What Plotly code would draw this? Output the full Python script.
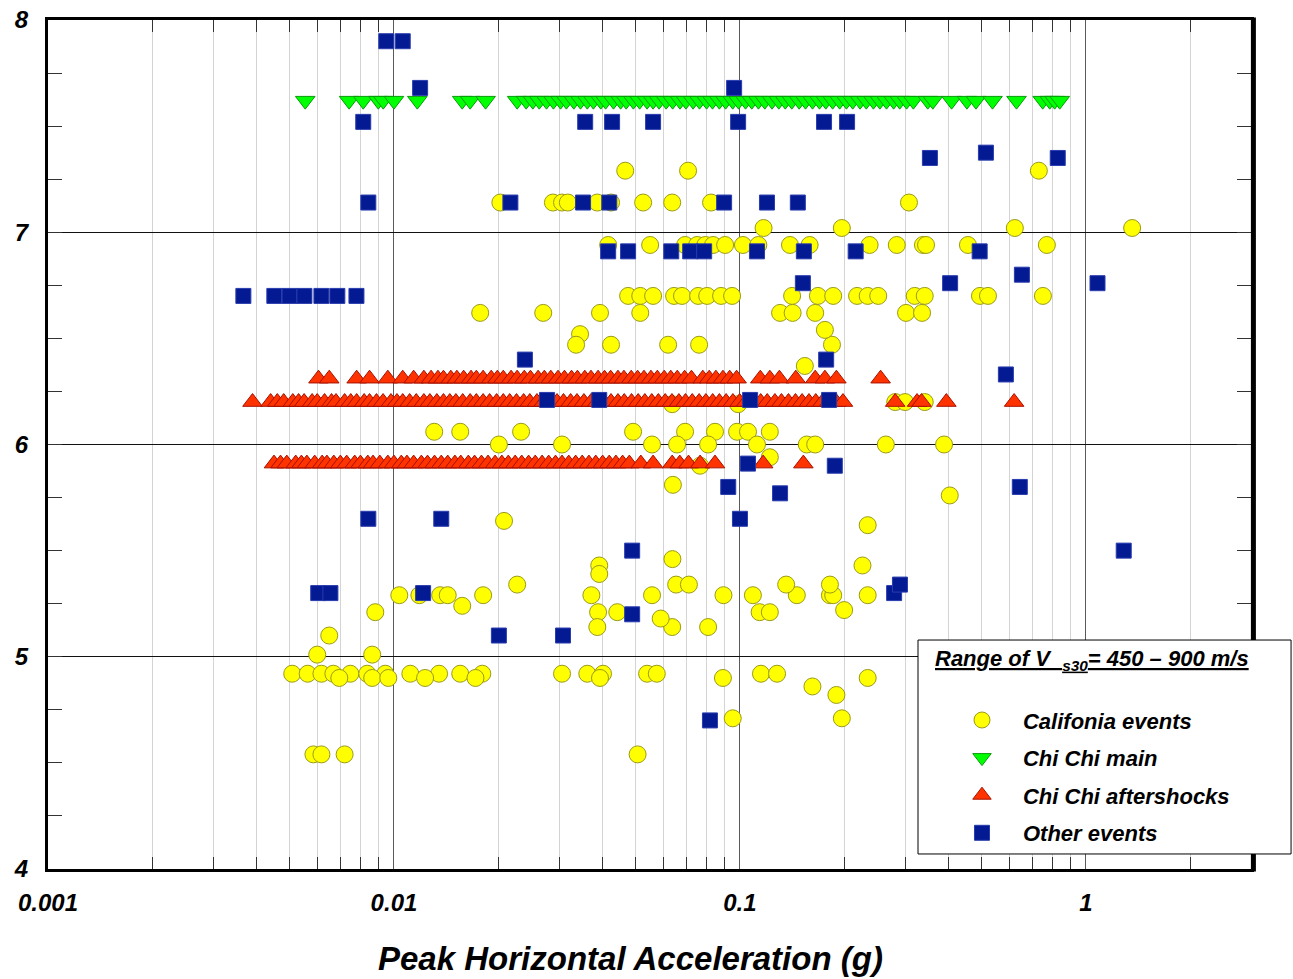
import plotly.graph_objects as go

# ---------------- data (PGA in g, magnitude) ----------------
cal_pga = [
    0.0466, 0.0708, 0.731,
    0.0203, 0.0288, 0.0306, 0.0318, 0.0387, 0.0424, 0.0525, 0.0637, 0.0825, 0.308,
    0.117, 0.197, 0.623, 1.36,
    0.0416, 0.055, 0.0694, 0.0752, 0.0794, 0.0836, 0.0906, 0.102, 0.113, 0.1395, 0.159, 0.237, 0.284, 0.338, 0.345, 0.456, 0.771,
    0.0475, 0.0515, 0.0561, 0.0645, 0.068, 0.0757, 0.0804, 0.0882, 0.0949, 0.1415, 0.168, 0.186, 0.218, 0.234, 0.251, 0.32, 0.342, 0.494, 0.521, 0.751,
    0.01775, 0.027, 0.0394, 0.0515, 0.1306, 0.142, 0.165, 0.302, 0.336,
    0.0345, 0.0336, 0.0424, 0.062, 0.0762, 0.1845, 0.176, 0.154,
    0.0637, 0.0988, 0.281, 0.30, 0.342,
    0.01307, 0.01554, 0.0233, 0.0491, 0.0694, 0.0847, 0.0981, 0.1055, 0.122,
    0.0201, 0.0306, 0.0557, 0.0658, 0.0809, 0.112, 0.156, 0.165, 0.264, 0.389,
    0.122, 0.0767, 0.064, 0.404, 0.234, 0.0208, 0.226,
    0.0638, 0.0392, 0.0392,
    0.01036, 0.01184, 0.0136, 0.0143, 0.0181, 0.0372, 0.0557, 0.0896, 0.109, 0.146, 0.182, 0.186, 0.234,
    0.0227, 0.0654, 0.0712, 0.136, 0.182,
    0.01575, 0.00883, 0.0389, 0.0442, 0.114, 0.122, 0.2,
    0.0387, 0.0809, 0.0637, 0.059, 0.0065, 0.006, 0.00865,
    0.00508, 0.00563, 0.00617, 0.00668, 0.00748, 0.00837, 0.00944, 0.01115, 0.0135, 0.01554, 0.018, 0.0306, 0.0362, 0.0402, 0.0539, 0.0575, 0.115, 0.128,
    0.00695, 0.00865, 0.00963, 0.0123, 0.0172, 0.0394, 0.0893, 0.234,
    0.162, 0.19, 0.0953, 0.197, 0.0506, 0.00585, 0.00617, 0.0072,
]
cal_mag = (
    [7.29] * 3
    + [7.14] * 10
    + [7.02] * 4
    + [6.94] * 17
    + [6.70] * 20
    + [6.62] * 9
    + [6.52, 6.47, 6.47, 6.47, 6.47, 6.47, 6.54, 6.37]
    + [6.19, 6.19, 6.20, 6.20, 6.20]
    + [6.06] * 9
    + [6.00] * 10
    + [5.94, 5.90, 5.81, 5.76, 5.62, 5.64, 5.43]
    + [5.46, 5.43, 5.39]
    + [5.29] * 13
    + [5.34] * 5
    + [5.24, 5.21, 5.21, 5.21, 5.21, 5.21, 5.22]
    + [5.14, 5.14, 5.14, 5.18, 5.10, 5.01, 5.01]
    + [4.92] * 18
    + [4.90] * 8
    + [4.86, 4.82, 4.71, 4.71, 4.54, 4.54, 4.54, 4.54]
)

chichi_main_pga = [
    0.00554, 0.00742, 0.00815, 0.00901, 0.00931, 0.0100, 0.01168, 0.01575, 0.0166, 0.0184,
    0.0227, 0.0241, 0.0252, 0.0263, 0.0276, 0.0289, 0.0303, 0.0315, 0.0331, 0.0346, 0.0362,
    0.0377, 0.0396, 0.0409, 0.0431, 0.0452, 0.0469, 0.0492, 0.0513, 0.0539, 0.0561, 0.0584,
    0.0612, 0.0639, 0.0671, 0.0698, 0.0732, 0.0764, 0.0801, 0.0833, 0.0872, 0.0909, 0.0953,
    0.0991, 0.1038, 0.1082, 0.1131, 0.118, 0.1238, 0.1295, 0.1352, 0.1412, 0.1483, 0.1547,
    0.1621, 0.1698, 0.1771, 0.1853, 0.1942, 0.2031, 0.2118, 0.2224, 0.2318, 0.2431, 0.2538,
    0.2652, 0.2781, 0.2897, 0.3032, 0.3171,
    0.349, 0.361, 0.409, 0.453, 0.481, 0.537, 0.63, 0.75, 0.786, 0.812, 0.84,
]
chichi_main_mag = [7.62] * len(chichi_main_pga)

after_63_pga = [
    0.00605, 0.0065, 0.0078, 0.0085, 0.0096, 0.0106, 0.0114, 0.0122,
    0.0128, 0.0134, 0.0139, 0.0146, 0.0152, 0.0159, 0.0167, 0.0173, 0.0181, 0.0191,
    0.0199, 0.0207, 0.0218, 0.0227, 0.0238, 0.0248, 0.0261, 0.0272, 0.0284, 0.0298,
    0.0311, 0.0326, 0.0339, 0.0356, 0.0371, 0.0389, 0.0406, 0.0423, 0.0444, 0.0462,
    0.0485, 0.0506, 0.0528, 0.0553, 0.0577, 0.0604, 0.0631, 0.0659, 0.0692, 0.0724,
    0.0781, 0.0815, 0.0852, 0.0893, 0.0934, 0.0978,
    0.1145, 0.122, 0.130, 0.145, 0.165, 0.176, 0.190, 0.255,
]
after_63_mag = [6.31] * len(after_63_pga)

after_62_pga = [
    0.0039, 0.0044, 0.0046, 0.0048, 0.0051, 0.0053, 0.0055, 0.0058, 0.0060, 0.0063,
    0.0066, 0.0068, 0.0072, 0.0075, 0.0078, 0.0082, 0.0085, 0.0089, 0.0093, 0.0098,
    0.0102, 0.0106, 0.0111, 0.0116, 0.0122, 0.0127, 0.0133, 0.0139, 0.0145, 0.0151,
    0.0158, 0.0166, 0.0173, 0.0181, 0.0189, 0.0198, 0.0207, 0.0216, 0.0226, 0.0237,
    0.0247, 0.0259, 0.0271, 0.0283, 0.0296, 0.0309, 0.0324, 0.0338, 0.0354, 0.0371,
    0.0387, 0.0405, 0.0424, 0.0444, 0.0463, 0.0486, 0.0508, 0.0531, 0.0556, 0.0581,
    0.0608, 0.0636, 0.0666, 0.0696, 0.0728, 0.0762, 0.0797, 0.0834, 0.0872, 0.0912,
    0.0954, 0.0998, 0.1042, 0.1095, 0.1148, 0.1199, 0.1262, 0.1318, 0.1381, 0.1447,
    0.1512, 0.1583, 0.1656, 0.1732, 0.1812, 0.1897, 0.1985,
    0.281, 0.325, 0.335, 0.395, 0.62,
]
after_62_mag = [6.20] * len(after_62_pga)

after_59_pga = [
    0.0045, 0.0047, 0.0049, 0.0052, 0.0054, 0.0056, 0.0059, 0.0062, 0.0064, 0.0067,
    0.0070, 0.0073, 0.0077, 0.0080, 0.0084, 0.0087, 0.0091, 0.0096, 0.0100, 0.0105,
    0.0109, 0.0114, 0.0120, 0.0125, 0.0131, 0.0137, 0.0143, 0.0150, 0.0156, 0.0164,
    0.0171, 0.0179, 0.0187, 0.0196, 0.0205, 0.0214, 0.0224, 0.0234, 0.0245, 0.0256,
    0.0268, 0.0280, 0.0293, 0.0306, 0.0320, 0.0335, 0.0350, 0.0366, 0.0383, 0.0401,
    0.0419, 0.0438, 0.0458, 0.0479,
    0.0517, 0.0561, 0.0637, 0.0670, 0.0710, 0.0767, 0.0847, 0.1167, 0.1525,
]
after_59_mag = [5.91] * len(after_59_pga)

other_pga = [
    0.0095, 0.0106, 0.0119, 0.00815, 0.00843,
    0.00367, 0.00451, 0.00499, 0.00551, 0.00617, 0.00686, 0.00779,
    0.0357, 0.0427, 0.0561, 0.0988, 0.175, 0.204, 0.0962,
    0.0217, 0.0352, 0.0419, 0.090, 0.1197, 0.147,
    0.354, 0.514, 0.829,
    0.0416, 0.0475, 0.0633, 0.0718, 0.0788, 0.112, 0.153, 0.216, 0.493,
    0.152, 0.405, 0.653, 1.08,
    0.0239, 0.1775, 0.587,
    0.0277, 0.0392, 0.107, 0.181,
    0.1055, 0.188, 0.0925, 0.1306, 0.644, 0.100, 0.00843, 0.0137,
    0.0488, 1.286, 0.00604, 0.00655, 0.01214, 0.279, 0.290,
    0.0201, 0.0308, 0.0488, 0.0819,
]
other_mag = [
    7.90, 7.90, 7.68, 7.52, 7.14,
    6.70, 6.70, 6.70, 6.70, 6.70, 6.70, 6.70,
    7.52, 7.52, 7.52, 7.52, 7.52, 7.52, 7.68,
    7.14, 7.14, 7.14, 7.14, 7.14, 7.14,
    7.35, 7.375, 7.35,
    6.91, 6.91, 6.91, 6.91, 6.91, 6.91, 6.91, 6.91, 6.91,
    6.76, 6.76, 6.80, 6.76,
    6.40, 6.40, 6.33,
    6.21, 6.21, 6.21, 6.21,
    5.91, 5.90, 5.80, 5.77, 5.80, 5.65, 5.65, 5.65,
    5.50, 5.50, 5.30, 5.30, 5.30, 5.30, 5.34,
    5.10, 5.10, 5.20, 4.70,
]

series_names = ["Califonia events", "Chi Chi main", "Chi Chi aftershocks", "Other events"]
x_tick_vals = [0.001, 0.01, 0.1, 1]
x_tick_text = ["0.001", "0.01", "0.1", "1"]
x_minor_vals = [m * d for d in (0.001, 0.01, 0.1, 1) for m in range(2, 10) if m * d <= 3]
y_tick_vals = [4, 5, 6, 7, 8]

FONT = "Liberation Sans, Arial, sans-serif"

fig = go.Figure()

fig.add_trace(go.Scatter(
    x=cal_pga, y=cal_mag, mode="markers", name=series_names[0], legendgroup="a",
    marker=dict(symbol="circle", size=17, color="#FFFF00",
                line=dict(color="#9a9a1a", width=1)),
))
fig.add_trace(go.Scatter(
    x=chichi_main_pga, y=chichi_main_mag, mode="markers", name=series_names[1], legendgroup="b",
    marker=dict(symbol="triangle-down", size=17, color="#00FF00",
                line=dict(color="#0a9a0a", width=1)),
))
after_pga = after_63_pga + after_62_pga + after_59_pga
after_mag = after_63_mag + after_62_mag + after_59_mag
fig.add_trace(go.Scatter(
    x=after_pga, y=after_mag, mode="markers", name=series_names[2], legendgroup="c",
    marker=dict(symbol="triangle-up", size=17, color="#FF3300",
                line=dict(color="#a81000", width=1)),
))
fig.add_trace(go.Scatter(
    x=other_pga, y=other_mag, mode="markers", name=series_names[3], legendgroup="d",
    marker=dict(symbol="square", size=15, color="#041A92",
                line=dict(color="#2a3cae", width=1)),
))

tickfont = dict(family=FONT, size=24, color="black", weight="bold", style="italic")

fig.update_xaxes(
    type="log", range=[-3, 0.4771], automargin=False,
    tickmode="array", tickvals=x_tick_vals, ticktext=x_tick_text,
    tickfont=tickfont, ticks="inside", ticklen=0,
    showgrid=True, gridcolor="#5a5a5a", gridwidth=1,
    minor=dict(tickmode="array", tickvals=x_minor_vals, ticks="inside", ticklen=12,
               tickcolor="#333333", tickwidth=1, showgrid=True, gridcolor="#d4d4d4", gridwidth=1),
    showline=True, linecolor="black", linewidth=3, mirror="allticks",
    ticklabelstandoff=10, zeroline=False,
)
fig.update_yaxes(
    range=[4, 8], automargin=False, tickmode="array", tickvals=y_tick_vals,
    tickfont=tickfont, ticks="inside", ticklen=0,
    showgrid=True, gridcolor="#111111", gridwidth=1,
    minor=dict(dtick=0.25, ticks="inside", ticklen=14, tickcolor="#333333", tickwidth=1,
               showgrid=False),
    showline=True, linecolor="black", linewidth=3, mirror="allticks",
    ticklabelstandoff=12, zeroline=False,
)

# right border is drawn heavier
fig.add_shape(type="line", xref="paper", yref="paper", x0=1.002, x1=1.002, y0=-0.003, y1=1.003,
              line=dict(color="black", width=5), layer="above")
# legend frame
fig.add_shape(type="rect", xref="paper", yref="paper", x0=0.7232, x1=1.0333, y0=0.0177, y1=0.2697,
              fillcolor="white", line=dict(color="black", width=1), layer="above")

fig.add_annotation(
    xref="paper", yref="paper", x=0.7355, y=0.246, xanchor="left", yanchor="middle",
    text="<u>Range of V  <sub>s30</sub>= 450 – 900 m/s</u>", showarrow=False,
    font=dict(family=FONT, size=22, color="black", weight="bold", style="italic"),
)
fig.add_annotation(
    xref="paper", yref="paper", x=0.4846, y=-0.105, xanchor="center", yanchor="middle",
    text="Peak Horizontal Acceleration (g)", showarrow=False,
    font=dict(family=FONT, size=33, color="black", weight="bold", style="italic"),
)

fig.update_layout(
    width=1293, height=979,
    margin=dict(l=48, r=42, t=20, b=110),
    paper_bgcolor="white", plot_bgcolor="white",
    showlegend=True,
    legend=dict(
        x=0.7423, y=0.2, xanchor="left", yanchor="top",
        bgcolor="rgba(0,0,0,0)", borderwidth=0,
        traceorder="grouped", tracegroupgap=6, itemwidth=72,
        font=dict(family=FONT, size=22, color="black", weight="bold", style="italic"),
    ),
)

fig.write_html("out.html")
